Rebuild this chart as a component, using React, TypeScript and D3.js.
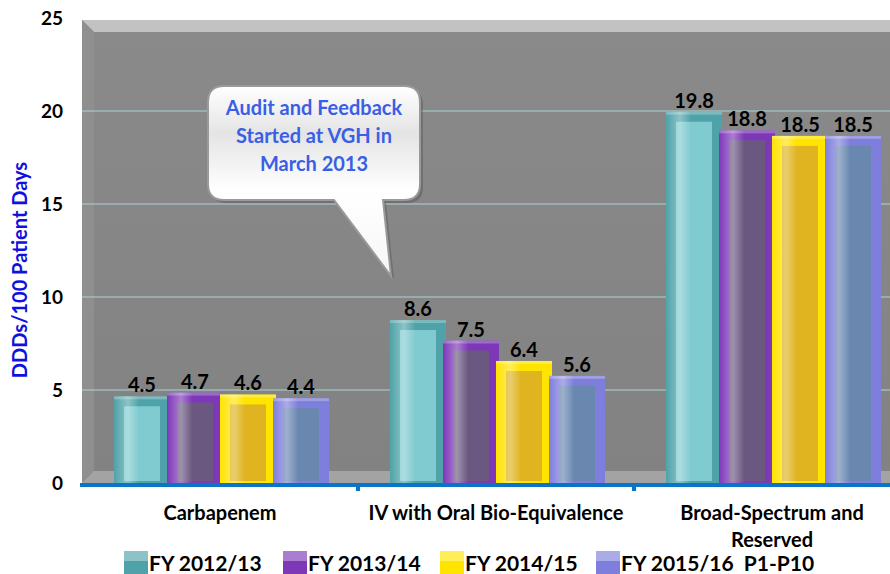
import React, { useRef, useEffect } from "react";
import * as d3 from "d3";

const categories = ["Carbapenem", "IV with Oral Bio-Equivalence", "Broad-Spectrum and Reserved"];
const seriesNames = ["FY 2012/13", "FY 2013/14", "FY 2014/15", "FY 2015/16  P1-P10"];
const fy1213 = [4.5, 8.6, 19.8];
const fy1314 = [4.7, 7.5, 18.8];
const fy1415 = [4.6, 6.4, 18.5];
const fy1516 = [4.4, 5.6, 18.5];
const yTicks = [0, 5, 10, 15, 20, 25];
const calloutLines = ["Audit and Feedback", "Started at VGH in", "March 2013"];

const frameColors = ["#4fa3a8", "#7d38b8", "#ffe400", "#7e7edc"];
const innerColors = ["#7fcbd0", "#6b5880", "#dfb420", "#6a87b0"];

const W = 890;
const H = 574;
const FONT = "Lato, 'Open Sans', sans-serif";

export default function App() {
  const svgRef = useRef<SVGSVGElement>(null);

  useEffect(() => {
    const svg = d3.select(svgRef.current);
    svg.selectAll("*").remove();
    const series = [fy1213, fy1314, fy1415, fy1516];

    const y = d3.scaleLinear().domain([0, 25]).range([483, 18]);
    const x0 = d3.scaleBand().domain(categories).range([82, 910]);
    const groupW = 212;
    const x1 = d3.scaleBand().domain(seriesNames).range([0, groupW]);

    const defs = svg.append("defs");
    const wall = defs.append("linearGradient").attr("id", "wall").attr("x1", 0).attr("x2", 0).attr("y1", 0).attr("y2", 1);
    wall.append("stop").attr("offset", "0%").attr("stop-color", "#8a8a8a");
    wall.append("stop").attr("offset", "100%").attr("stop-color", "#828282");
    const shine = defs.append("linearGradient").attr("id", "shine").attr("x1", 0).attr("x2", 1).attr("y1", 0).attr("y2", 0);
    shine.append("stop").attr("offset", "0%").attr("stop-color", "#fff").attr("stop-opacity", 0.0);
    shine.append("stop").attr("offset", "25%").attr("stop-color", "#fff").attr("stop-opacity", 0.35);
    shine.append("stop").attr("offset", "45%").attr("stop-color", "#fff").attr("stop-opacity", 0.0);
    const bubble = defs.append("linearGradient").attr("id", "bubble").attr("x1", 0).attr("x2", 0).attr("y1", 0).attr("y2", 1);
    bubble.append("stop").attr("offset", "0%").attr("stop-color", "#ffffff");
    bubble.append("stop").attr("offset", "25%").attr("stop-color", "#e4e4e4");
    bubble.append("stop").attr("offset", "55%").attr("stop-color", "#ffffff");
    bubble.append("stop").attr("offset", "100%").attr("stop-color", "#f6f6f6");

    // 3D box: back wall, top bevel, floor
    const left = 82, top = 20, depth = 12;
    svg.append("rect").attr("x", left).attr("y", top).attr("width", W - left).attr("height", y(0) - top).attr("fill", "url(#wall)");
    svg.append("polygon")
      .attr("points", `${left},${top} ${W},${top} ${W},${top + depth} ${left + depth},${top + depth}`)
      .attr("fill", "#c2c2c2");
    svg.append("polygon")
      .attr("points", `${left},${top} ${left + depth},${top + depth} ${left + depth},${y(0) - depth} ${left},${y(0)}`)
      .attr("fill", "#8f8f8f");
    svg.append("polygon")
      .attr("points", `${left + depth},${y(0) - depth} ${W},${y(0) - depth} ${W},${y(0)} ${left},${y(0)}`)
      .attr("fill", "#a3a3a3");

    // gridlines
    svg.append("g").selectAll("line").data(yTicks.filter(t => t > 0 && t < 25)).join("line")
      .attr("x1", left).attr("x2", W).attr("y1", d => y(d)).attr("y2", d => y(d))
      .attr("stroke", "#a9d4d4").attr("stroke-width", 1);

    // y tick labels
    svg.append("g").selectAll("text").data(yTicks).join("text")
      .attr("x", 63).attr("y", d => y(d)).attr("dy", "0.36em").attr("text-anchor", "end")
      .attr("font-family", FONT).attr("font-weight", "bold").attr("font-size", 19).attr("fill", "#000")
      .text(d => d);

    svg.append("text")
      .attr("transform", `translate(27,${270}) rotate(-90)`)
      .attr("text-anchor", "middle").attr("font-family", FONT).attr("font-weight", "bold")
      .attr("font-size", 20).attr("fill", "#1010e0").text("DDDs/100 Patient Days");

    // bars
    const bw = x1.bandwidth() + 3;
    categories.forEach((cat, ci) => {
      const gx = x0(cat)! + (x0.bandwidth() - groupW) / 2;
      series.forEach((vals, si) => {
        const v = vals[ci];
        const bx = gx + x1(seriesNames[si])!;
        const by = y(v) - 3;
        const bh = y(0) - by;
        const g = svg.append("g");
        g.append("rect").attr("x", bx).attr("y", by).attr("width", bw).attr("height", bh).attr("fill", frameColors[si]);
        g.append("rect").attr("x", bx + 10).attr("y", by + 10).attr("width", bw - 20).attr("height", Math.max(0, bh - 12))
          .attr("fill", innerColors[si]);
        g.append("rect").attr("x", bx).attr("y", by).attr("width", bw).attr("height", bh).attr("fill", "url(#shine)");
        g.append("rect").attr("x", bx).attr("y", by).attr("width", bw).attr("height", 3).attr("fill", "#fff").attr("opacity", 0.25);
        svg.append("text")
          .attr("x", bx + bw / 2).attr("y", by - 4).attr("text-anchor", "middle")
          .attr("font-family", FONT).attr("font-weight", "bold").attr("font-size", 20).attr("fill", "#000")
          .text(v.toFixed(1));
      });
    });

    // x axis
    svg.append("line").attr("x1", 80).attr("x2", W).attr("y1", 485).attr("y2", 485)
      .attr("stroke", "#0a74c8").attr("stroke-width", 4);
    svg.append("g").selectAll("line").data(categories.slice(1)).join("line")
      .attr("x1", d => x0(d)!).attr("x2", d => x0(d)!).attr("y1", 485).attr("y2", 491)
      .attr("stroke", "#0a74c8").attr("stroke-width", 4);

    // category labels
    const catLines = [["Carbapenem"], ["IV with Oral Bio-Equivalence"], ["Broad-Spectrum and", "Reserved"]];
    categories.forEach((cat, ci) => {
      const t = svg.append("text").attr("text-anchor", "middle")
        .attr("font-family", FONT).attr("font-weight", "bold").attr("font-size", 20).attr("fill", "#000");
      catLines[ci].forEach((ln, li) => {
        t.append("tspan").attr("x", x0(cat)! + x0.bandwidth() / 2).attr("y", 520 + li * 27).text(ln);
      });
    });

    // legend
    const legendX = [124, 283, 440, 596];
    seriesNames.forEach((name, si) => {
      const lx = legendX[si];
      svg.append("rect").attr("x", lx).attr("y", 551).attr("width", 24).attr("height", 23).attr("fill", frameColors[si]);
      svg.append("rect").attr("x", lx).attr("y", 551).attr("width", 24).attr("height", 10).attr("fill", "#fff").attr("opacity", 0.35);
      svg.append("text").attr("x", lx + 25).attr("y", 571)
        .attr("font-family", FONT).attr("font-weight", "bold").attr("font-size", 21).attr("fill", "#000")
        .attr("style", "white-space:pre").text(name);
    });

    // callout
    const cg = svg.append("g");
    const bx0 = 208, by0 = 86, bw0 = 212, bh0 = 114, r = 16;
    const path = `M${bx0 + r},${by0} H${bx0 + bw0 - r} Q${bx0 + bw0},${by0} ${bx0 + bw0},${by0 + r} V${by0 + bh0 - r} Q${bx0 + bw0},${by0 + bh0} ${bx0 + bw0 - r},${by0 + bh0} H383 L391,276 L334,${by0 + bh0} H${bx0 + r} Q${bx0},${by0 + bh0} ${bx0},${by0 + bh0 - r} V${by0 + r} Q${bx0},${by0} ${bx0 + r},${by0} Z`;
    cg.append("path").attr("d", path).attr("fill", "#5a5a5a").attr("opacity", 0.5).attr("transform", "translate(3,3)");
    cg.append("path").attr("d", path).attr("fill", "url(#bubble)").attr("stroke", "#9a9a9a").attr("stroke-width", 2);
    calloutLines.forEach((ln, i) => {
      cg.append("text").attr("x", 314).attr("y", 115 + i * 28).attr("text-anchor", "middle")
        .attr("font-family", FONT).attr("font-weight", "bold").attr("font-size", 20).attr("fill", "#3a5ee6").text(ln);
    });
  }, []);

  return (
    <svg ref={svgRef} width={W} height={H} style={{ position: "absolute", left: 0, top: 0, background: "#fff" }} />
  );
}
